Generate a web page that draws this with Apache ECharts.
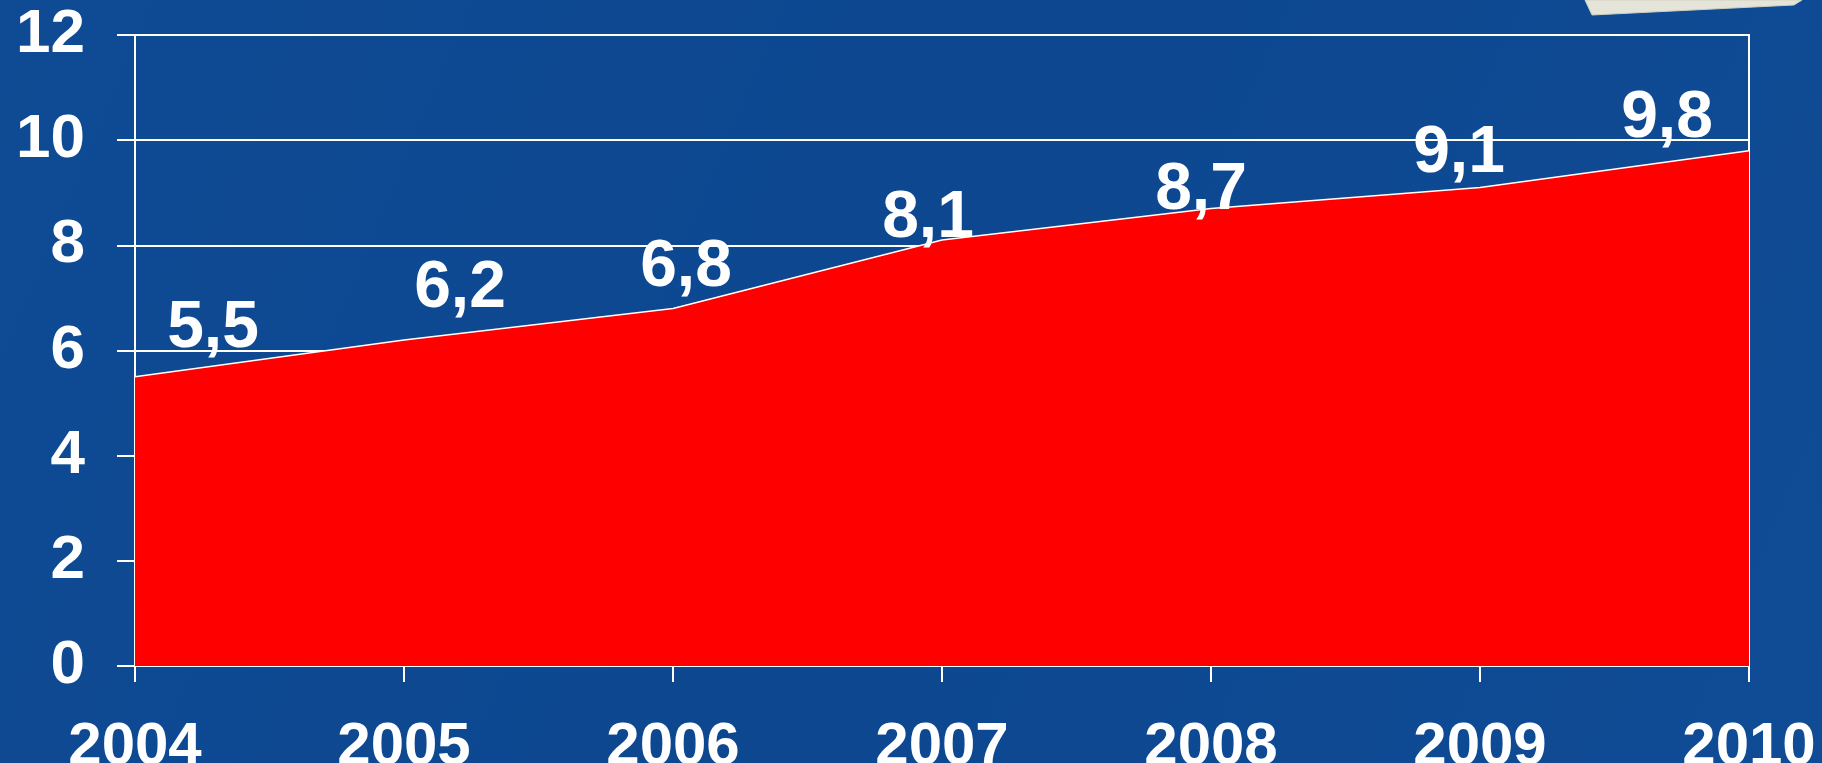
<!DOCTYPE html>
<html>
<head>
<meta charset="utf-8">
<title>2004–2010</title>
<script src="https://cdn.jsdelivr.net/npm/echarts@6/dist/echarts.min.js"></script>
<style>
  html, body { margin: 0; padding: 0; background: #0d4891; }
  #chart { width: 1822px; height: 763px; }
</style>
</head>
<body>
<div id="chart"></div>
<script>
// Years along the horizontal axis
var years = ['2004', '2005', '2006', '2007', '2008', '2009', '2010'];
// Yearly values
var values = [5.5, 6.2, 6.8, 8.1, 8.7, 9.1, 9.8];
// Vertical axis range
var yMin = 0;
var yMax = 12;
var yStep = 2;

// Per-point nudges for the value labels [dx, dy] so they sit clear of the edge
var labelNudge = [[78, -14], [56, -18], [13, -7], [-14, 12], [-10, 16], [-21, 0], [-82, 2]];

var FONT = '"Liberation Sans", Arial, sans-serif';

var chart = echarts.init(document.getElementById('chart'), null, { renderer: 'canvas' });

chart.setOption({
  backgroundColor: {
    type: 'linear', x: 0, y: 0, x2: 1, y2: 1,
    colorStops: [
      { offset: 0, color: '#0f4b94' },
      { offset: 0.5, color: '#0c4790' },
      { offset: 1, color: '#104c95' }
    ]
  },
  animation: false,
  grid: {
    left: 135, right: 73, top: 35, bottom: 97,
    outerBoundsMode: 'none',
    containLabel: false,
    show: true,
    borderColor: '#ffffff',
    borderWidth: 2,
    backgroundColor: 'transparent'
  },
  xAxis: {
    type: 'category',
    data: years,
    boundaryGap: false,
    axisLine: { show: true, lineStyle: { color: '#ffffff', width: 2 } },
    axisTick: { show: true, length: 16, alignWithLabel: true, lineStyle: { color: '#ffffff', width: 2 } },
    axisLabel: {
      color: '#ffffff', fontFamily: FONT, fontWeight: 'bold', fontSize: 60,
      lineHeight: 60, margin: 51, interval: 0, showMinLabel: true, showMaxLabel: true,
      hideOverlap: false
    },
    splitLine: { show: false }
  },
  yAxis: {
    type: 'value',
    min: yMin, max: yMax, interval: yStep,
    axisLine: { show: true, lineStyle: { color: '#ffffff', width: 2 } },
    axisTick: { show: true, length: 18, lineStyle: { color: '#ffffff', width: 2 } },
    axisLabel: {
      color: '#ffffff', fontFamily: FONT, fontWeight: 'bold', fontSize: 62,
      margin: 50
    },
    splitLine: { show: true, lineStyle: { color: '#ffffff', width: 2 } }
  },
  series: [{
    type: 'line',
    data: values,
    symbol: 'circle',
    symbolSize: 1,
    showSymbol: true,
    itemStyle: { color: 'rgba(255,255,255,0)', borderWidth: 0 },
    smooth: false,
    lineStyle: { color: '#ffffff', width: 1.5 },
    areaStyle: { color: '#ff0000', opacity: 1 },
    z: 3,
    labelLayout: function (p) {
      var n = labelNudge[p.dataIndex] || [0, 0];
      return { dx: n[0], dy: n[1], hideOverlap: false };
    },
    label: {
      show: true,
      position: 'top',
      distance: 0,
      color: '#ffffff',
      fontFamily: FONT,
      fontWeight: 'bold',
      fontSize: 66,
      lineHeight: 66,
      formatter: function (p) { return String(p.value).replace('.', ','); }
    }
  }],
  graphic: [{
    // paper sheet peeking in at the top right corner
    type: 'polygon',
    z: 10,
    shape: { points: [[1585, 0], [1592, 15], [1794, 5], [1802, 0]] },
    style: { fill: '#e4e4d8', stroke: '#cfcfc2', lineWidth: 1 }
  }]
});
</script>
</body>
</html>
